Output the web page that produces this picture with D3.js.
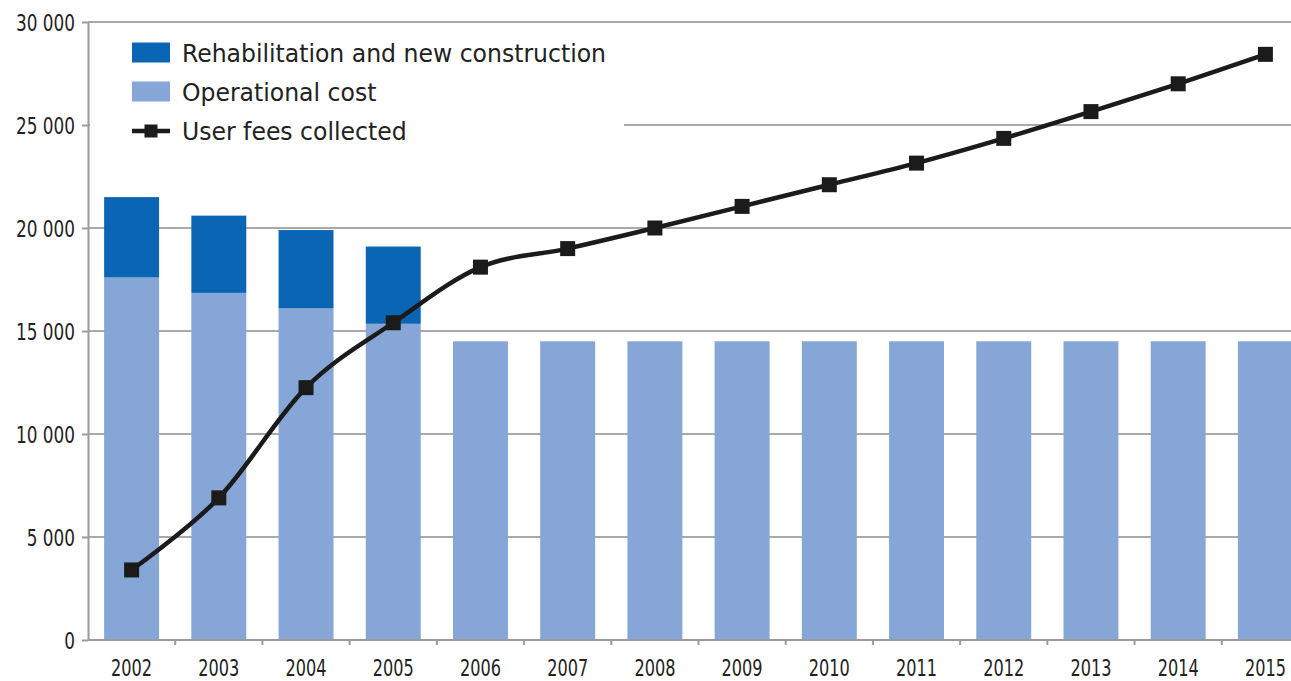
<!doctype html>
<html lang="en">
<head>
<script src="https://d3js.org/d3.v7.min.js"></script>
<style>
  body { margin: 0; background: #fff; }
  svg { display: block; }
  .lbl { font-family: "Liberation Sans Narrow", "DejaVu Sans Condensed", "Open Sans", sans-serif; fill: #222; }
  .grid line { stroke: #a9a9a9; stroke-width: 2; }
  .axis path, .axis line { stroke: #9a9a9a; stroke-width: 2; }
</style>
</head>
<body>
<div id="chart"></div>
<script>
  // data
  let years = ["2002","2003","2004","2005","2006","2007","2008","2009","2010","2011","2012","2013","2014","2015"];
  let operational = [17600, 16850, 16100, 15350, 14500, 14500, 14500, 14500, 14500, 14500, 14500, 14500, 14500, 14500];
  let rehab = [3900, 3750, 3800, 3750, 0, 0, 0, 0, 0, 0, 0, 0, 0, 0];
  let userFees = [3400, 6900, 12250, 15400, 18100, 19000, 20000, 21050, 22100, 23150, 24350, 25650, 27000, 28430];
  let yTicks = [0, 5000, 10000, 15000, 20000, 25000, 30000];
  let legendLabels = ["Rehabilitation and new construction", "Operational cost", "User fees collected"];

  let colDark = "#0a66b4", colLight = "#85a6d6", colLine = "#1b1b1b";

  let W = 1291, H = 681;
  let plotLeft = 88, plotRight = 1309, plotTop = 22, plotBottom = 640;

  let svg = d3.select("#chart").append("svg")
      .attr("width", W).attr("height", H);

  let x = d3.scaleBand().domain(years).range([plotLeft, plotRight])
      .paddingInner(0.37).paddingOuter(0.185);
  let y = d3.scaleLinear().domain([0, 30000]).range([plotBottom, plotTop]);

  let fmt = d3.formatLocale({decimal: ".", thousands: " ", grouping: [3], currency: ["", ""]}).format(",d");

  // squeeze text horizontally to mimic the narrow face of the original
  function squeeze(sel, factor) {
    sel.each(function() {
      let w = this.getComputedTextLength();
      d3.select(this).attr("textLength", w * factor).attr("lengthAdjust", "spacingAndGlyphs");
    });
  }

  // gridlines
  svg.append("g").attr("class", "grid")
    .selectAll("line").data(yTicks.filter(d => d > 0)).enter().append("line")
    .attr("x1", plotLeft).attr("x2", W)
    .attr("y1", d => y(d)).attr("y2", d => y(d));

  // stacked bars
  let stackData = years.map((yr, i) => ({year: yr, op: operational[i], rehab: rehab[i]}));
  let series = d3.stack().keys(["op", "rehab"])(stackData);
  let colors = {op: colLight, rehab: colDark};

  svg.append("g").selectAll("g").data(series).enter().append("g")
    .attr("fill", s => colors[s.key])
    .selectAll("rect").data(s => s.filter(d => d[1] > d[0])).enter().append("rect")
    .attr("x", d => x(d.data.year))
    .attr("width", x.bandwidth())
    .attr("y", d => y(d[1]))
    .attr("height", d => y(d[0]) - y(d[1]));

  // y axis
  let yAxis = svg.append("g").attr("class", "axis")
    .attr("transform", `translate(${plotLeft},0)`)
    .call(d3.axisLeft(y).tickValues(yTicks).tickFormat(fmt).tickSize(6).tickPadding(7).tickSizeOuter(0));
  let yText = yAxis.selectAll("text").attr("class", "lbl").style("font-size", "23.5px").attr("dy", "0.35em");
  let wTop = yText.filter(d => d === 30000).node().getComputedTextLength();
  squeeze(yText, 59 / wTop);

  // x axis
  let xAxis = svg.append("g").attr("class", "axis")
    .attr("transform", `translate(0,${plotBottom})`)
    .call(d3.axisBottom(x).tickSize(0).tickPadding(19).tickSizeOuter(0));
  xAxis.select(".domain").attr("d", `M${plotLeft},0H${W}`);
  let xText = xAxis.selectAll("text").attr("class", "lbl").style("font-size", "23.5px");
  squeeze(xText, 41 / xText.node().getComputedTextLength());
  // small ticks on category boundaries
  xAxis.selectAll(".bnd").data(years.slice(1)).enter().append("line")
    .attr("class", "bnd")
    .attr("x1", d => x(d) - x.step() * x.paddingInner() / 2)
    .attr("x2", d => x(d) - x.step() * x.paddingInner() / 2)
    .attr("y1", 0).attr("y2", 5);

  // user fees line
  let line = d3.line()
    .x((d, i) => x(years[i]) + x.bandwidth() / 2)
    .y(d => y(d))
    .curve(d3.curveCatmullRom.alpha(0));

  svg.append("path").datum(userFees)
    .attr("d", line)
    .attr("fill", "none")
    .attr("stroke", colLine)
    .attr("stroke-width", 4.5);

  let ms = 15;
  svg.append("g").selectAll("rect").data(userFees).enter().append("rect")
    .attr("x", (d, i) => x(years[i]) + x.bandwidth() / 2 - ms / 2)
    .attr("y", d => y(d) - ms / 2)
    .attr("width", ms).attr("height", ms)
    .attr("fill", colLine);

  // legend with white background covering the gridline
  let lg = svg.append("g");
  lg.append("rect").attr("x", plotLeft + 2).attr("y", 32).attr("width", 534).attr("height", 115).attr("fill", "#fff");
  let rows = [52.5, 91.5, 131];
  lg.append("rect").attr("x", 132).attr("y", rows[0] - 10).attr("width", 38).attr("height", 20).attr("fill", colDark);
  lg.append("rect").attr("x", 132).attr("y", rows[1] - 10).attr("width", 38).attr("height", 20).attr("fill", colLight);
  lg.append("line").attr("x1", 132).attr("x2", 170).attr("y1", rows[2]).attr("y2", rows[2])
    .attr("stroke", colLine).attr("stroke-width", 4.5);
  lg.append("rect").attr("x", 151 - 6.5).attr("y", rows[2] - 6.5).attr("width", 13).attr("height", 13).attr("fill", colLine);
  let lgText = lg.selectAll("text").data(legendLabels).enter().append("text")
    .attr("class", "lbl")
    .attr("x", 182).attr("y", (d, i) => rows[i])
    .attr("dy", "0.36em")
    .style("font-size", "25px")
    .text(d => d);
  squeeze(lgText, 424 / lgText.node().getComputedTextLength());
</script>
</body>
</html>
